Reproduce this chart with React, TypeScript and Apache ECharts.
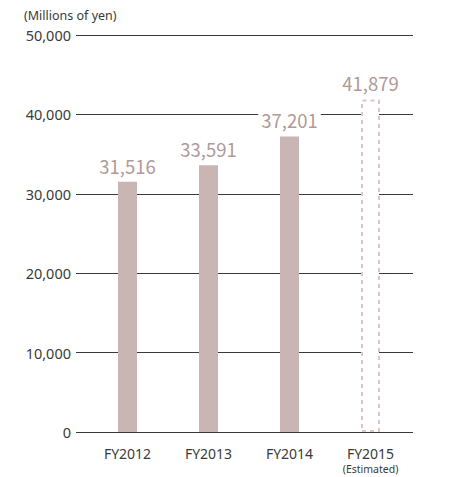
import React, { useEffect, useRef } from "react";
import * as echarts from "echarts";

const categories = ["FY2012", "FY2013", "FY2014", "FY2015"];
const values = [31516, 33591, 37201, 41879];
const estimatedIndex = 3;
const yTicks = [0, 10000, 20000, 30000, 40000, 50000];
const unitLabel = "(Millions of yen)";
const estimatedNote = "(Estimated)";

const FONT = "'Noto Sans', sans-serif";
const VALUE_FONT = "'Noto Sans CJK JP', 'Noto Sans', sans-serif";

export default function App() {
  const ref = useRef<HTMLDivElement>(null);
  useEffect(() => {
    if (!ref.current) return;
    const chart = echarts.init(ref.current, undefined, { renderer: "svg" });
    const yMin = yTicks[0];
    const yMax = yTicks[yTicks.length - 1];
    const interval = yTicks[1] - yTicks[0];
    chart.setOption({
      animation: false,
      textStyle: { fontFamily: FONT },
      grid: [
        { left: 76, right: 48, top: 35, bottom: 45, containLabel: false, outerBoundsMode: "none" },
        { left: 87, width: 324, top: 35, bottom: 45, containLabel: false, outerBoundsMode: "none" },
      ],
      xAxis: [
        { gridIndex: 0, type: "value", show: false, min: 0, max: 1 },
        {
          gridIndex: 1,
          type: "category",
          data: categories,
          axisLine: { show: false },
          axisTick: { show: false },
          axisLabel: {
            interval: 0,
            margin: 13,
            color: "#3a3a3a",
            fontSize: 14,
            fontFamily: FONT,
            lineHeight: 17,
            formatter: (v: string, i: number) =>
              i === estimatedIndex ? `{m|${v}}\n{s|${estimatedNote}}` : `{m|${v}}`,
            rich: {
              m: { fontSize: 14, color: "#3a3a3a", fontFamily: FONT, lineHeight: 17 },
              s: { fontSize: 10.5, color: "#3a3a3a", fontFamily: FONT, lineHeight: 14 },
            },
          },
        },
      ],
      yAxis: [
        {
          gridIndex: 0,
          type: "value",
          min: yMin,
          max: yMax,
          interval,
          axisLine: { show: false },
          axisTick: { show: false },
          axisLabel: {
            margin: 5,
            color: "#3a3a3a",
            fontSize: 14.5,
            fontFamily: FONT,
            formatter: (v: number) => v.toLocaleString("en-US"),
          },
          splitLine: { show: true, lineStyle: { color: "#3a3a3a", width: 1 } },
        },
        {
          gridIndex: 1,
          type: "value",
          min: yMin,
          max: yMax,
          interval,
          show: false,
          splitLine: { show: false },
        },
      ],
      graphic: [
        {
          type: "text",
          left: 24,
          top: 9,
          style: { text: unitLabel, fill: "#3a3a3a", fontSize: 12.5, fontFamily: FONT },
        },
      ],
      series: [
        {
          type: "bar",
          xAxisIndex: 1,
          yAxisIndex: 1,
          barWidth: 19,
          z: 3,
          data: values.map((v, i) =>
            i === estimatedIndex
              ? {
                  value: v,
                  itemStyle: {
                    color: "#ffffff",
                    borderColor: "#dcc7c6",
                    borderWidth: 2,
                    borderType: [4, 4],
                  },
                }
              : { value: v }
          ),
          itemStyle: { color: "#c9b6b4" },
          label: {
            show: true,
            position: "top",
            distance: 7,
            color: "#b09997",
            fontSize: 18.5,
            fontFamily: VALUE_FONT,
            backgroundColor: "#ffffff",
            padding: [0, 3],
            formatter: (p: any) => Number(p.value).toLocaleString("en-US"),
          },
        },
      ],
    });
    return () => chart.dispose();
  }, []);
  return (
    <div
      ref={ref}
      style={{ position: "fixed", left: 0, top: 0, width: 461, height: 477, background: "#fff" }}
    />
  );
}
